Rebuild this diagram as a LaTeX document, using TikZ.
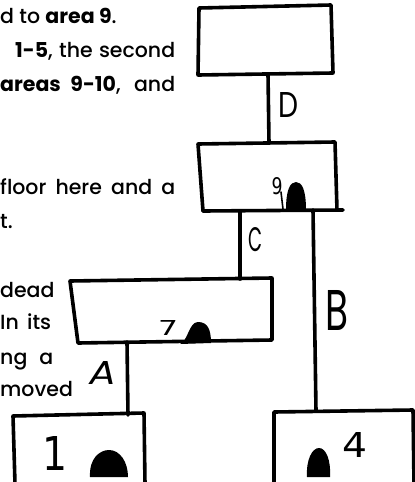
\documentclass[tikz,border=0pt]{standalone}
\usepackage{fontspec}
\setmainfont{Poppins Medium}[BoldFont={Poppins Bold}]
\newfontfamily\handfont{DejaVu Sans}
\newfontfamily\lblfont{Poppins}
\usepackage{graphicx}
\begin{document}
\begin{tikzpicture}[x=1pt,y=-1pt,
  hand/.style={line width=3.6pt, line cap=round, line join=round},
  blob/.style={fill=black},
  txt/.style={inner sep=0pt, font=\fontsize{20.5}{24}\selectfont},
  lbl/.style={inner sep=0pt, font=\lblfont\fontsize{30}{30}\selectfont},
  num/.style={inner sep=0pt, font=\handfont\fontsize{30}{30}\selectfont}]
\useasboundingbox (0,0) rectangle (415,482);
\clip (0,0) rectangle (415,482);

% ---------- text column ----------
\node[txt, anchor=base west] (t1) at (0,23) {d to \textbf{area 9}.};
\node[txt, anchor=base west] (t2) at (15,57) {\makebox[160pt][s]{\textbf{1-5}, the second}};
\node[txt, anchor=base west] (t3) at (0,91) {\makebox[175pt][s]{\textbf{areas 9-10}, and}};
\node[txt, anchor=base west] (t4) at (0,194) {\makebox[175pt][s]{floor here and a}};
\node[txt, anchor=base west] (t5) at (0,228) {t.};
\node[txt, anchor=base west] (t6) at (0,297) {dead};
\node[txt, anchor=base west] (t7) at (0,329) {\makebox[51pt][s]{In its}};
\node[txt, anchor=base west] (t8) at (0,364) {\makebox[53pt][s]{ng a}};
\node[txt, anchor=base west] (t9) at (0,396) {moved};

% ---------- boxes ----------
% top box
\coordinate (top-tl) at (199,8);  \coordinate (top-tr) at (331,5);
\coordinate (top-br) at (333,73); \coordinate (top-bl) at (198,75);
\draw[hand] (top-tl) -- (top-tr) -- (top-br) -- (top-bl) -- cycle;

% area 9 box
\coordinate (b9-tl) at (198,144); \coordinate (b9-tr) at (335,142);
\coordinate (b9-br) at (337,210); \coordinate (b9-bl) at (203,211);
\draw[hand] (b9-bl) -- (b9-tl) -- (b9-tr) -- (b9-br);
\draw[hand] (b9-bl) -- (343,210);

% area 7 box
\coordinate (b7-tl) at (70,281); \coordinate (b7-tr) at (272,278);
\coordinate (b7-br) at (272,340); \coordinate (b7-bl) at (78,343);
\draw[hand] (b7-tl) -- (b7-tr) -- (b7-br) -- (b7-bl) -- cycle;

% area 1 box (open at the bottom)
\coordinate (b1-tl) at (13,416); \coordinate (b1-tr) at (144,413);
\draw[hand] (15,484) -- (b1-tl) -- (b1-tr) -- (145,484);

% area 4 box (open at the bottom)
\coordinate (b4-tl) at (274,412); \coordinate (b4-tr) at (413,410);
\draw[hand] (274,484) -- (b4-tl) -- (b4-tr) -- (414,484);

% ---------- connectors ----------
\coordinate (d-top) at (268,74);  \coordinate (d-bot) at (269,143);
\coordinate (c-top) at (240,211); \coordinate (c-bot) at (240,279);
\coordinate (bb-top) at (313,210); \coordinate (bb-bot) at (316,411);
\coordinate (a-top) at (127,342); \coordinate (a-bot) at (128,415);
\draw[hand] (d-top) -- (d-bot);
\draw[hand] (c-top) -- (c-bot);
\draw[hand] (bb-top) -- (bb-bot);
\draw[hand] (a-top) -- (a-bot);

% ---------- connector labels ----------
\node[lbl] (lD) at (288,105) {\resizebox{20pt}{25pt}{D}};
\node[lbl] (lC) at (255,240) {\resizebox{14pt}{24pt}{C}};
\node[lbl] (lB) at (337,310) {\resizebox{23pt}{40pt}{B}};
\node[lbl] (lA) at (103,373) {\resizebox{27pt}{23pt}{\itshape A}};

% ---------- area numbers ----------
\node[num] (n9) at (277,186) {\resizebox{11pt}{17pt}{9}};
\draw[line width=1.6pt, line cap=round] (281,192) -- (283,209);
\node[num] (n7) at (168,328) {\resizebox{20pt}{15pt}{7}};
\node[num] (n1) at (55,453) {\resizebox{25pt}{34pt}{1}};
\node[num] (n4) at (355,445) {\resizebox{25pt}{25pt}{4}};

% ---------- blobs ----------
\fill[blob] (286,210) .. controls (286,190) and (290,182) .. (296,182)
            .. controls (302,182) and (306,190) .. (306,210) -- cycle;
\fill[blob] (180,344) .. controls (188,341) and (189,322) .. (198,322)
            .. controls (208,322) and (211,330) .. (211,343) -- cycle;
\fill[blob] (90,477) .. controls (89,458) and (100,450) .. (109,450)
            .. controls (120,450) and (128,462) .. (128,477) -- cycle;
\fill[blob] (307,477) .. controls (306,460) and (312,448) .. (319,448)
            .. controls (326,448) and (331,460) .. (330,477) -- cycle;
\end{tikzpicture}
\end{document}
